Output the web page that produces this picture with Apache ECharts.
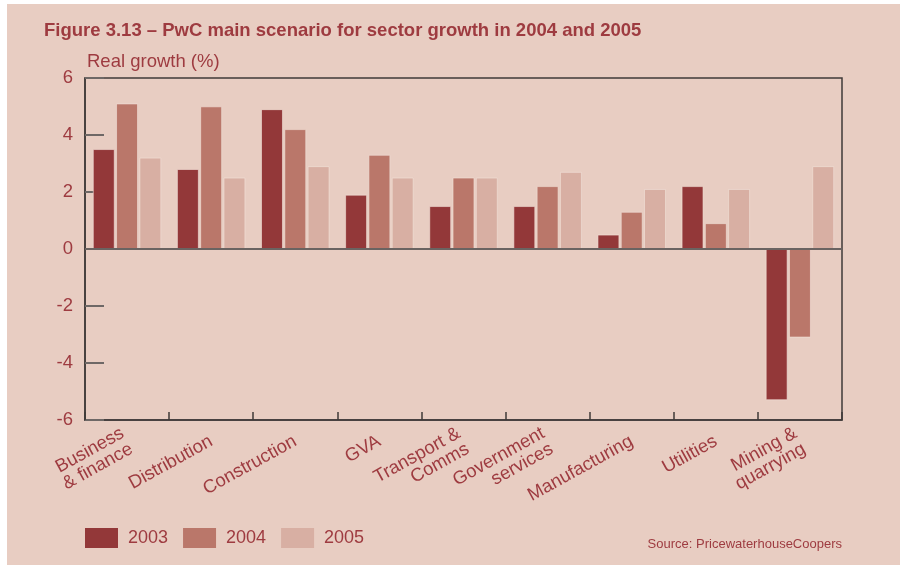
<!DOCTYPE html>
<html>
<head>
<meta charset="utf-8">
<script src="https://cdn.jsdelivr.net/npm/echarts@6/dist/echarts.min.js"></script>
<style>
  html, body { margin: 0; padding: 0; background: #ffffff; width: 900px; height: 565px; overflow: hidden; }
  #chart { position: absolute; left: 7px; top: 4px; width: 893px; height: 561px; background: #e8cdc2; }
</style>
</head>
<body>
<div id="chart"></div>
<script>
// Sectors along the x axis
const sectors = [
  'Business\n& finance', 'Distribution', 'Construction', 'GVA', 'Transport &\nComms',
  'Government\nservices', 'Manufacturing', 'Utilities', 'Mining &\nquarrying'
];
// Real growth (%) per sector and year
const growth2003 = [3.5, 2.8, 4.9, 1.9, 1.5, 1.5, 0.5, 2.2, -5.3];
const growth2004 = [5.1, 5.0, 4.2, 3.3, 2.5, 2.2, 1.3, 0.9, -3.1];
const growth2005 = [3.2, 2.5, 2.9, 2.5, 2.5, 2.7, 2.1, 2.1, 2.9];
const years = ['2003', '2004', '2005'];
const yTicks = [-6, -4, -2, 0, 2, 4, 6];

const textRed = '#9e3b40';
const font = '"Liberation Sans", Arial, sans-serif';
const colors = ['#933839', '#ba776a', '#d8afa3'];

const chart = echarts.init(document.getElementById('chart'));

function barSeries(name, data, idx) {
  const s = {
    name: name,
    type: 'bar',
    data: data,
    barGap: '8%',
    barCategoryGap: '19%',
    itemStyle: { color: colors[idx], borderColor: '#f2e2da', borderWidth: 0.6 },
    emphasis: { disabled: true }
  };
  if (idx === 2) {
    // zero reference line across the plot
    s.markLine = {
      silent: true,
      symbol: 'none',
      label: { show: false },
      lineStyle: { color: '#6a6361', width: 2, type: 'solid' },
      data: [{ yAxis: 0 }]
    };
  }
  return s;
}

chart.setOption({
  animation: false,
  textStyle: { fontFamily: font },
  title: [
    {
      text: 'Figure 3.13 – PwC main scenario for sector growth in 2004 and 2005',
      left: 32, top: 12,
      textStyle: { color: textRed, fontSize: 18.5, fontWeight: 'bold', fontFamily: font }
    },
    {
      text: 'Real growth (%)',
      left: 75, top: 43,
      textStyle: { color: textRed, fontSize: 18.5, fontWeight: 'normal', fontFamily: font }
    },
    {
      text: 'Source: PricewaterhouseCoopers',
      right: 53, top: 529,
      textStyle: { color: textRed, fontSize: 13, fontWeight: 'normal', fontFamily: font }
    }
  ],
  legend: {
    data: years,
    left: 73, top: 519,
    itemWidth: 33, itemHeight: 20, itemGap: 15,
    icon: 'rect',
    itemStyle: { borderWidth: 0 },
    textStyle: { color: textRed, fontSize: 18, fontFamily: font, padding: [0, 0, 0, 5] },
    selectedMode: false
  },
  grid: {
    left: 78, right: 58, top: 74, bottom: 145,
    show: true, borderColor: '#3f3a39', borderWidth: 1.5, backgroundColor: 'transparent'
  },
  xAxis: {
    type: 'category',
    data: sectors,
    position: 'bottom',
    axisLine: { show: true, onZero: false, lineStyle: { color: '#3f3a39', width: 1.5 } },
    axisTick: { show: true, inside: true, length: 8, alignWithLabel: false, lineStyle: { color: '#3f3a39', width: 1.5 } },
    axisLabel: {
      color: textRed, fontSize: 18.5, fontFamily: font, rotate: 29, margin: 20,
      interval: 0, lineHeight: 18
    },
    splitLine: { show: false }
  },
  yAxis: {
    type: 'value',
    min: yTicks[0], max: yTicks[yTicks.length - 1], interval: 2,
    axisLine: { show: true, lineStyle: { color: '#3f3a39', width: 1.5 } },
    axisTick: { show: true, inside: true, length: 19, lineStyle: { color: '#6e6866', width: 2 } },
    axisLabel: { color: textRed, fontSize: 18.5, fontFamily: font, margin: 12 },
    splitLine: { show: false }
  },
  series: [
    barSeries(years[0], growth2003, 0),
    barSeries(years[1], growth2004, 1),
    barSeries(years[2], growth2005, 2)
  ]
});
</script>
</body>
</html>
